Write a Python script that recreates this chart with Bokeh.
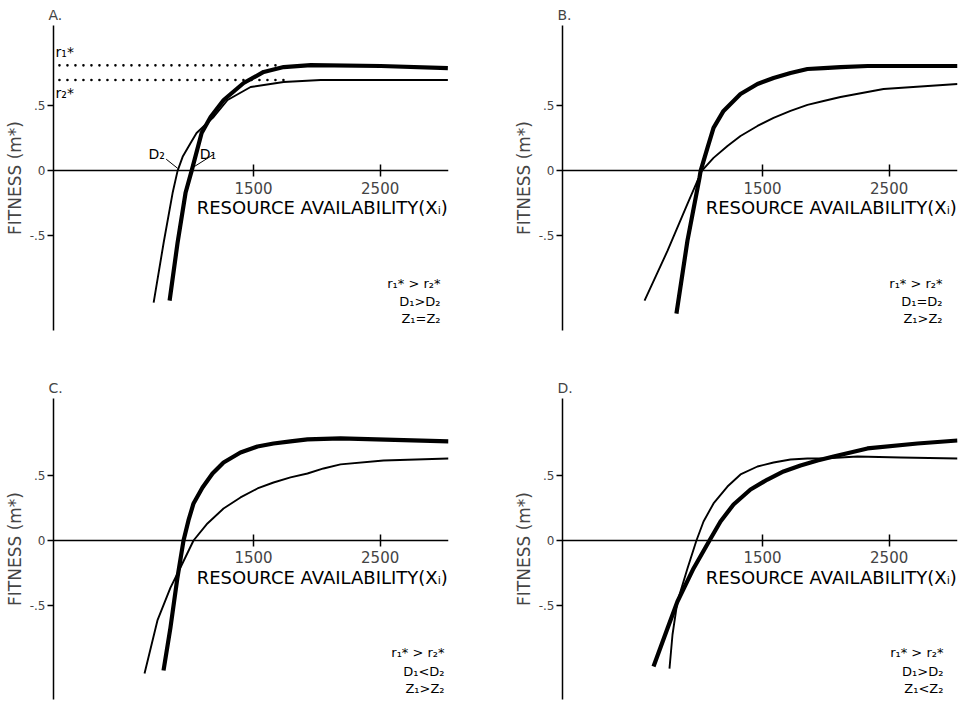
from bokeh.plotting import figure
from bokeh.layouts import gridplot
from bokeh.models import FixedTicker, Range1d
from bokeh.core.properties import value
from bokeh.embed import file_html
from bokeh.resources import INLINE

FONT = "DejaVu Sans"

# ---------------- data ----------------
x_ticks = [1500, 2500]
y_ticks = [-0.5, 0.0, 0.5]
y_tick_labels = {0.5: ".5", 0.0: "0", -0.5: "-.5"}
x_title = "RESOURCE AVAILABILITY(Xᵢ)"
y_title = "FITNESS (m*)"
panel_letters = ["A.", "B.", "C.", "D."]

# Panel A  (species 1 = thick, species 2 = thin)
a_x1 = [837, 900, 963, 1011, 1090, 1161, 1264, 1422, 1580, 1738, 1952, 2505, 3035]
a_y1 = [-1.0, -0.554, -0.169, 0.0, 0.292, 0.415, 0.546, 0.677, 0.762, 0.80, 0.815, 0.808, 0.792]
a_x2 = [711, 790, 861, 900, 940, 1003, 1050, 1185, 1295, 1477, 1738, 2031, 3035]
a_y2 = [-1.015, -0.554, -0.169, 0.0, 0.108, 0.215, 0.292, 0.415, 0.546, 0.646, 0.685, 0.70, 0.70]

# Panel B
b_x1 = [820, 907, 1002, 1011, 1065, 1113, 1192, 1326, 1460, 1587, 1721, 1855, 1982, 2116, 2331, 3040]
b_y1 = [-1.10, -0.538, -0.054, 0.0, 0.177, 0.331, 0.462, 0.592, 0.669, 0.715, 0.754, 0.785, 0.792, 0.80, 0.808, 0.808]
b_x2 = [568, 750, 907, 1020, 1113, 1223, 1326, 1460, 1587, 1721, 1855, 1982, 2116, 2456, 3040]
b_y2 = [-1.0, -0.615, -0.254, 0.0, 0.10, 0.192, 0.269, 0.346, 0.408, 0.462, 0.508, 0.538, 0.569, 0.631, 0.669]

# Panel C
c_x1 = [789, 844, 899, 947, 986, 1026, 1097, 1176, 1263, 1397, 1531, 1658, 1792, 1926, 2187, 3040]
c_y1 = [-1.0, -0.669, -0.285, 0.0, 0.154, 0.285, 0.408, 0.515, 0.60, 0.677, 0.723, 0.746, 0.762, 0.777, 0.785, 0.762]
c_x2 = [639, 741, 844, 923, 1026, 1136, 1263, 1397, 1531, 1658, 1792, 1926, 2053, 2187, 2527, 3040]
c_y2 = [-1.023, -0.615, -0.362, -0.208, 0.0, 0.131, 0.246, 0.331, 0.40, 0.446, 0.485, 0.515, 0.554, 0.585, 0.615, 0.631]

# Panel D
d_x1 = [639, 749, 828, 955, 1081, 1168, 1271, 1405, 1539, 1666, 1800, 1934, 2061, 2195, 2329, 2724, 3040]
d_y1 = [-0.969, -0.677, -0.469, -0.215, 0.0, 0.146, 0.277, 0.392, 0.469, 0.531, 0.577, 0.615, 0.646, 0.677, 0.708, 0.746, 0.769]
d_x2 = [765, 789, 828, 907, 978, 1034, 1113, 1223, 1326, 1460, 1587, 1721, 1855, 1982, 2250, 2590, 3040]
d_y2 = [-0.985, -0.723, -0.469, -0.215, 0.0, 0.146, 0.285, 0.415, 0.508, 0.569, 0.60, 0.623, 0.631, 0.631, 0.646, 0.638, 0.631]

conditions = [
    ["r₁* > r₂*", "D₁>D₂", "Z₁=Z₂"],
    ["r₁* > r₂*", "D₁=D₂", "Z₁>Z₂"],
    ["r₁* > r₂*", "D₁<D₂", "Z₁>Z₂"],
    ["r₁* > r₂*", "D₁>D₂", "Z₁<Z₂"],
]
cond_right = [2977, 2922, 3009, 2929]
cond_rows = [-0.865, -1.005, -1.14]

# panel A annotations: equilibrium levels r1*, r2*
r_star = [0.813, 0.70]
r_star_end = [1699, 1770]
r_star_start = -33
r_star_names = ["r₁*", "r₂*"]
r_label_y = [0.915, 0.60]
d_names = ["D₂", "D₁"]
d_label_x = [800, 1205]
d_label_y = [0.13, 0.13]
d_point_x = [900, 1011]   # x-axis crossings of the two curves

X0, X1 = -80, 3040
TOP_Y = (-1.23, 1.12)
BOT_Y = (-1.223, 1.092)

panels = [
    (a_x1, a_y1, a_x2, a_y2),
    (b_x1, b_y1, b_x2, b_y2),
    (c_x1, c_y1, c_x2, c_y2),
    (d_x1, d_y1, d_x2, d_y2),
]


def make_panel(i):
    left_col = i in (0, 2)
    top_row = i in (0, 1)
    yr = TOP_Y if top_row else BOT_Y
    width = 509 if left_col else 456
    height = 373 if top_row else 327
    p = figure(width=width, height=height,
               x_range=Range1d(X0, X1), y_range=Range1d(*yr),
               output_backend="svg", toolbar_location=None,
               min_border_left=53, min_border_right=61 if left_col else 8,
               min_border_top=25, min_border_bottom=43 if top_row else 1)
    p.background_fill_color = "white"
    p.border_fill_color = "white"
    p.outline_line_color = None
    p.xgrid.grid_line_color = None
    p.ygrid.grid_line_color = None

    p.title.text = panel_letters[i]
    p.title.align = "left"
    p.title.offset = -5
    p.title.standoff = 5
    p.title.text_font = FONT
    p.title.text_font_size = "14px"
    p.title.text_font_style = "normal"

    xa = p.xaxis[0]
    xa.fixed_location = 0
    xa.ticker = FixedTicker(ticks=x_ticks)
    xa.major_tick_in = 6
    xa.major_tick_out = 6
    xa.minor_tick_line_color = None
    xa.axis_line_width = 1.5
    xa.major_tick_line_width = 1.5
    xa.major_label_text_font = FONT
    xa.major_label_text_font_size = "15px"
    xa.major_label_standoff = 5

    ya = p.yaxis[0]
    ya.ticker = FixedTicker(ticks=y_ticks)
    ya.major_label_overrides = y_tick_labels
    ya.major_tick_in = 0
    ya.major_tick_out = 6
    ya.minor_tick_line_color = None
    ya.axis_line_width = 1.5
    ya.major_tick_line_width = 1.5
    ya.major_label_text_font = FONT
    ya.major_label_text_font_size = "12px"
    ya.major_label_standoff = 2
    ya.axis_label = y_title
    ya.axis_label_text_font = FONT
    ya.axis_label_text_font_size = "17px"
    ya.axis_label_text_font_style = "normal"
    ya.axis_label_standoff = 2

    x1, y1, x2, y2 = panels[i]
    p.line(x2, y2, line_color="black", line_width=1.9, line_join="round")
    p.line(x1, y1, line_color="black", line_width=4.2, line_join="round")

    p.text(x=[X1 - 5], y=[-0.285], text=[x_title], text_align="right",
           text_baseline="middle", text_font=value(FONT), text_font_size="18px",
           text_color="black")

    p.text(x=[cond_right[i]] * 3, y=cond_rows, text=conditions[i],
           text_align="right", text_baseline="middle", text_font=value(FONT),
           text_font_size="13px", text_color="black")

    if i == 0:
        for k in range(2):
            p.line([r_star_start, r_star_end[k]], [r_star[k], r_star[k]],
                   line_color="black", line_width=2.6, line_dash="0 8",
                   line_cap="round")
        p.text(x=[-64, -64], y=r_label_y, text=r_star_names, text_align="left",
               text_baseline="middle", text_font=value(FONT),
               text_font_size="14px", text_color="black")
        p.text(x=d_label_x, y=d_label_y, text=d_names,
               text_align="right", text_baseline="middle", text_font=value(FONT),
               text_font_size="14px", text_color="black")
        p.segment(x0=[810, 1190], y0=[0.09, 0.13], x1=d_point_x, y1=[0.02, 0.02],
                  line_color="black", line_width=1)
    return p


figs = [make_panel(i) for i in range(4)]
layout = gridplot([[figs[0], figs[1]], [figs[2], figs[3]]], toolbar_location=None)

open("out.html", "w").write(file_html(layout, INLINE))
